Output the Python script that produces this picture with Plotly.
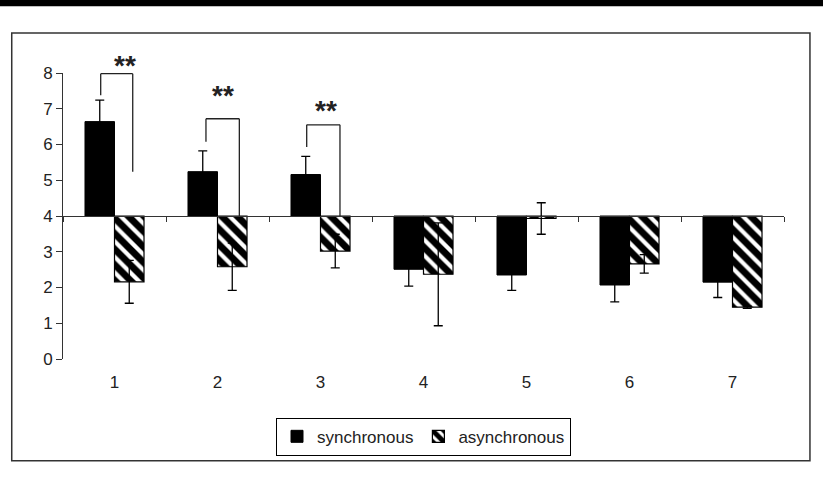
import plotly.graph_objects as go

categories = ["1", "2", "3", "4", "5", "6", "7"]
baseline = 4.0
sync_vals = [6.64, 5.24, 5.16, 2.51, 2.35, 2.07, 2.15]
sync_err = [0.60, 0.58, 0.51, 0.47, 0.43, 0.47, 0.43]
async_vals = [2.16, 2.58, 3.02, 2.37, 3.93, 2.66, 1.45]
async_err = [0.60, 0.66, 0.47, 1.44, 0.44, 0.26, 0.03]
y_ticks = [0, 1, 2, 3, 4, 5, 6, 7, 8]

FONT = "Liberation Sans, Arial, sans-serif"
TXT = "#222222"

fig = go.Figure()
fig.add_trace(go.Bar(
    name="synchronous", x=categories,
    y=[v - baseline for v in sync_vals], base=baseline,
    marker=dict(color="black", line=dict(color="black", width=1)),
    error_y=dict(type="data", array=sync_err, color="black", thickness=1.3, width=4.5),
))
fig.add_trace(go.Bar(
    name="asynchronous", x=categories,
    y=[v - baseline for v in async_vals], base=baseline,
    marker=dict(color="white", line=dict(color="black", width=1.2),
                pattern=dict(shape="\\", size=11, solidity=0.62, fgcolor="#000000",
                             fgopacity=1, bgcolor="#ffffff", fillmode="replace")),
    error_y=dict(type="data", array=async_err, color="black", thickness=1.3, width=4.5),
))

shapes = []
# significance brackets: (x_left, x_right, y_left_bottom, y_top, y_right_bottom)
brackets = [(-0.134, 0.177, 7.38, 7.98, 5.24),
            (0.888, 1.212, 6.08, 6.72, 4.0),
            (1.866, 2.189, 5.93, 6.55, 4.0)]
for xl, xr, yl, yt, yr in brackets:
    for (a, b, c, d) in [(xl, yl, xl, yt), (xl, yt, xr, yt), (xr, yt, xr, yr)]:
        shapes.append(dict(type="line", xref="x", yref="y", x0=a, y0=b, x1=c, y1=d,
                           line=dict(color="#222222", width=1.3)))
# outer frame and top band
shapes.append(dict(type="rect", xref="paper", yref="paper", x0=-0.0711, x1=1.036,
                   y0=-0.356, y1=1.140, line=dict(color="#333333", width=1.5), layer="below"))
shapes.append(dict(type="rect", xref="paper", yref="paper", x0=-0.1, x1=1.1,
                   y0=1.2335, y1=1.30, line=dict(width=0), fillcolor="black"))

annotations = []
# (x, y, yshift)
for xa, ya, ys in [(0.10, 7.9, 11), (1.05, 7.38, 0), (2.05, 6.94, 0)]:
    annotations.append(dict(x=xa, y=ya, xref="x", yref="y", text="<b>**</b>", showarrow=False,
                            yshift=ys, font=dict(family=FONT, size=28, color=TXT)))

fig.update_layout(
    width=823, height=491,
    margin=dict(l=63, r=39, t=73, b=132),
    paper_bgcolor="white", plot_bgcolor="white",
    barmode="group", bargap=0.427, bargroupgap=0,
    font=dict(family=FONT, size=17, color=TXT),
    showlegend=True,
    legend=dict(orientation="h", x=0.5, xanchor="center", y=-0.2055, yanchor="top",
                bordercolor="black", borderwidth=1, font=dict(size=17, color=TXT),
                itemwidth=30, tracegroupgap=0),
    xaxis=dict(type="category", categoryorder="array", categoryarray=categories,
               range=[-0.5, 6.5], anchor="free", position=0.5,
               showline=True, linecolor="#333333", linewidth=1,
               ticks="outside", ticklen=5, tickcolor="#333333", tickson="boundaries",
               ticklabelstandoff=151, showgrid=False, zeroline=False,
               tickfont=dict(size=17, color=TXT), automargin=False, fixedrange=True),
    yaxis=dict(range=[0, 8], tickvals=y_ticks, showline=True, linecolor="#333333", linewidth=1,
               ticks="outside", ticklen=6, tickcolor="#333333", showgrid=False, zeroline=False,
               tickfont=dict(size=17, color=TXT), automargin=False, fixedrange=True),
    shapes=shapes, annotations=annotations,
)

fig.write_html("out.html")
